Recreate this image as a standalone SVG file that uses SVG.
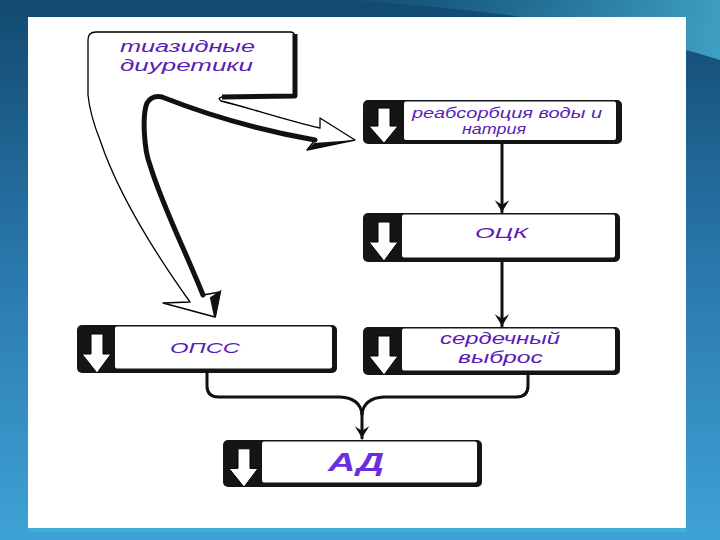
<svg xmlns="http://www.w3.org/2000/svg" width="720" height="540" viewBox="0 0 720 540">
  <defs>
    <linearGradient id="bg" x1="0" y1="0" x2="0" y2="1">
      <stop offset="0" stop-color="#124a70"/>
      <stop offset="0.5" stop-color="#2a78ad"/>
      <stop offset="1" stop-color="#3fa2d6"/>
    </linearGradient>
    <linearGradient id="sw" x1="0" y1="0" x2="1" y2="0">
      <stop offset="0" stop-color="#2c8fb8" stop-opacity="0"/>
      <stop offset="1" stop-color="#49b3d6" stop-opacity="0.8"/>
    </linearGradient>
    <marker id="ah" viewBox="0 0 20 20" refX="18" refY="10" markerWidth="18" markerHeight="18" markerUnits="userSpaceOnUse" orient="auto">
      <path d="M5,2 L18,10 L5,18 L10,10 Z" fill="#111"/>
    </marker>
    <g id="darrow">
      <path d="M15,9 L27,9 L27,29 L35,29 L21,48 L6,29 L15,29 Z" fill="#fff" stroke="#000" stroke-width="1"/>
    </g>
  </defs>
  <style>
    .t { font-family: "Liberation Sans", Arial, sans-serif; font-style: italic; fill: #5a1db5; }
    .shadow { fill: #151515; }
    .body { fill: #fff; }
    .conn { fill: none; stroke: #111; stroke-width: 3; stroke-linecap: round; }
  </style>

  <!-- background -->
  <rect x="0" y="0" width="720" height="540" fill="url(#bg)"/>
  <path d="M330,0 L720,0 L720,60 Q560,10 330,0 Z" fill="url(#sw)"/>
  <rect x="28" y="17" width="658" height="512" fill="#fff"/>
  <rect x="28" y="528" width="658" height="4" fill="#3fb0d5"/>

  <!-- callout: тиазидные диуретики with arrows -->
  <g id="node-thiazide">
    <path d="M88,40 Q88,32 96,32 L290,32 Q295,32 295,37 L295,93 Q295,97 290,97 L222,97 Q217,98 221,101 C250,108 285,120 320,128 L320,118 L355,140 L307,150 L315,140 C270,132 215,118 162,97 Q152,95 147,103 C142,115 144,150 150,165 C162,205 185,250 203,295 L220,292 L215,317 L163,303 L190,302 C160,260 120,200 100,140 Q90,115 88,95 Z" fill="#fff" stroke="#000" stroke-width="1.3" stroke-linejoin="round"/>
    <path d="M295,34 L295,96 L222,97" fill="none" stroke="#111" stroke-width="5" stroke-linejoin="round"/>
    <path d="M315,140 C270,132 215,118 162,97 Q152,95 147,103 C142,115 144,150 150,165 C162,205 185,250 203,295" fill="none" stroke="#111" stroke-width="5" stroke-linecap="round"/>
    <path d="M355,140 L307,150 L314,143 Z" fill="#111"/>
    <path d="M220,292 L215,317 L211,298 Z" fill="#111" stroke="#111" stroke-width="2"/>
    <text class="t" x="120" y="52" font-size="16" textLength="135" lengthAdjust="spacingAndGlyphs">тиазидные</text>
    <text class="t" x="120" y="71" font-size="16" textLength="133" lengthAdjust="spacingAndGlyphs">диуретики</text>
  </g>

  <!-- реабсорбция -->
  <g id="node-reabs">
    <rect class="shadow" x="363" y="100" width="259" height="44" rx="5"/>
    <rect class="body" x="404" y="101.5" width="212" height="38.5" rx="2"/>
    <use href="#darrow" transform="translate(363,100) scale(1,0.9)"/>
    <text class="t" x="412" y="118" font-size="14" textLength="190" lengthAdjust="spacingAndGlyphs">реабсорбция воды и</text>
    <text class="t" x="462" y="134" font-size="14" textLength="64" lengthAdjust="spacingAndGlyphs">натрия</text>
  </g>

  <!-- ОЦК -->
  <g id="node-ock">
    <rect class="shadow" x="363" y="213" width="257" height="49" rx="5"/>
    <rect class="body" x="402" y="214.5" width="213" height="43" rx="2"/>
    <use href="#darrow" transform="translate(363,213)"/>
    <text class="t" x="475" y="238" font-size="15" textLength="53" lengthAdjust="spacingAndGlyphs">ОЦК</text>
  </g>

  <!-- ОПСС -->
  <g id="node-opss">
    <rect class="shadow" x="77" y="325" width="260" height="48" rx="5"/>
    <rect class="body" x="115" y="326.5" width="217" height="42" rx="2"/>
    <use href="#darrow" transform="translate(76,325)"/>
    <text class="t" x="170" y="353" font-size="15" textLength="70" lengthAdjust="spacingAndGlyphs">ОПСС</text>
  </g>

  <!-- сердечный выброс -->
  <g id="node-co">
    <rect class="shadow" x="363" y="327" width="257" height="48" rx="5"/>
    <rect class="body" x="402" y="328.5" width="213" height="42" rx="2"/>
    <use href="#darrow" transform="translate(363,327)"/>
    <text class="t" x="440" y="344" font-size="16" textLength="120" lengthAdjust="spacingAndGlyphs">сердечный</text>
    <text class="t" x="458" y="363" font-size="16" textLength="85" lengthAdjust="spacingAndGlyphs">выброс</text>
  </g>

  <!-- АД -->
  <g id="node-ad">
    <rect class="shadow" x="223" y="440" width="259" height="47" rx="5"/>
    <rect class="body" x="262" y="441.5" width="215" height="41" rx="2"/>
    <use href="#darrow" transform="translate(223,440) scale(1,0.98)"/>
    <text class="t" x="328" y="471" font-size="25" font-weight="bold" textLength="56" lengthAdjust="spacingAndGlyphs" style="fill:#6a2de0">АД</text>
  </g>

  <!-- connectors -->
  <g id="connectors">
    <line class="conn" x1="502" y1="144" x2="502" y2="212" marker-end="url(#ah)"/>
    <line class="conn" x1="502" y1="262" x2="502" y2="326" marker-end="url(#ah)"/>
    <path class="conn" d="M207,373 L207,386 Q207,397 219,397 L340,397 Q360,398 362,414"/>
    <path class="conn" d="M528,375 L528,386 Q528,397 516,397 L384,397 Q364,398 362,414"/>
    <line class="conn" x1="362" y1="412" x2="362" y2="438" marker-end="url(#ah)"/>
  </g>
</svg>
